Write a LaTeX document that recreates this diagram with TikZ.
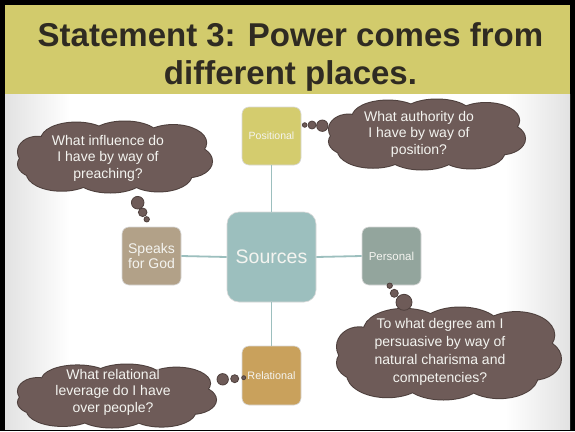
\documentclass[tikz,border=0pt]{standalone}
\usepackage{fontspec}
\setmainfont{Liberation Sans}
\definecolor{band}{HTML}{D2CB6C}
\definecolor{titletext}{HTML}{2F2B22}
\definecolor{posc}{HTML}{D4CC6E}
\definecolor{srcc}{HTML}{9CBFBE}
\definecolor{perc}{HTML}{93A59D}
\definecolor{spkc}{HTML}{B2A188}
\definecolor{relc}{HTML}{C9A15C}
\definecolor{cloudfill}{HTML}{6E5B58}
\definecolor{cloudline}{HTML}{4E403D}
\definecolor{linkc}{HTML}{9CBFBE}
\definecolor{lighttext}{HTML}{F4F4F0}
\definecolor{edgegrey}{HTML}{E2E2E2}
\tikzset{
  srcbox/.style={rectangle, rounded corners=7pt, draw=white!85!black, line width=0.6pt, text=lighttext, align=center, inner sep=0pt},
  cloudshape/.style={insert path={
    (-0.55,0.45) ellipse [x radius=0.36, y radius=0.5]
    (-0.05,0.55) ellipse [x radius=0.36, y radius=0.45]
    (0.45,0.5) ellipse [x radius=0.34, y radius=0.47]
    (0.75,0.12) ellipse [x radius=0.25, y radius=0.45]
    (0.6,-0.4) ellipse [x radius=0.34, y radius=0.5]
    (0.1,-0.55) ellipse [x radius=0.36, y radius=0.45]
    (-0.4,-0.5) ellipse [x radius=0.36, y radius=0.47]
    (-0.8,-0.15) ellipse [x radius=0.2, y radius=0.42]
    (-0.75,0.2) ellipse [x radius=0.25, y radius=0.4]
    (0,0) ellipse [x radius=0.85, y radius=0.65]}},
  thoughtcloud/.pic={
    \path[fill=cloudline, draw=cloudline, line width=2pt, cloudshape];
    \path[fill=cloudfill, cloudshape];
  },
  thoughttext/.style={text=lighttext, align=center, font=\fontsize{14}{16.5}\selectfont, inner sep=0pt},
  bubble/.style={circle, fill=cloudfill, draw=cloudline, line width=0.8pt, inner sep=0pt},
  link/.style={draw=linkc, line width=1.8pt}
}
\begin{document}
\begin{tikzpicture}[x=1pt,y=-1pt]
\useasboundingbox (0,0) rectangle (575,431);
% frame and background
\fill[black] (0,0) rectangle (575,431);
\fill[white] (5,94) rectangle (570,429.5);
\shade[left color=edgegrey, right color=white] (5,94) rectangle (70,429.5);
\shade[left color=white, right color=edgegrey] (505,94) rectangle (570,429.5);
\fill[band] (5,5) rectangle (570,94);
\node[text=titletext, align=center, inner sep=0pt, font=\bfseries\fontsize{33}{38}\selectfont] (title) at (290.5,56.5) {Statement 3: Power comes from\\different places.};

% source boxes
\node[srcbox, fill=posc, minimum width=59pt, minimum height=58pt, font=\fontsize{10.5}{12}\selectfont] (pos) at (271.5,136) {Positional};
\node[srcbox, fill=srcc, rounded corners=12pt, minimum width=89pt, minimum height=90pt, font=\fontsize{19.5}{22}\selectfont] (src) at (271.5,257) {Sources};
\node[srcbox, fill=perc, minimum width=59pt, minimum height=58pt, font=\fontsize{11.5}{13}\selectfont] (per) at (391.5,256) {Personal};
\node[srcbox, fill=spkc, minimum width=59pt, minimum height=58pt, font=\fontsize{14}{15}\selectfont] (spk) at (151.5,256) {Speaks\\for God};
\node[srcbox, fill=relc, minimum width=59pt, minimum height=59pt, font=\fontsize{10.8}{12}\selectfont] (rel) at (271.5,375.5) {Relational};

% connectors
\draw[link] (pos.south) -- (src.north);
\draw[link] (src.west) -- (spk.east);
\draw[link] (src.east) -- (per.west);
\draw[link] (src.south) -- (rel.north);

% cloud 1 (top-left)
\pic[xscale=97, yscale=35.5] at (115,157) {thoughtcloud};
\node[thoughttext] (t1) at (108,158) {What influence do\\I have by way of\\preaching?};
\node[bubble, minimum size=12.6pt] (b1a) at (137.7,202.7) {};
\node[bubble, minimum size=8.6pt] (b1b) at (142.7,212.3) {};
\node[bubble, minimum size=5.4pt] (b1c) at (146.7,219.3) {};

% cloud 2 (top-right)
\pic[xscale=98, yscale=35] at (427,134.5) {thoughtcloud};
\node[thoughttext] (t2) at (419,134) {What authority do\\I have by way of\\position?};
\node[bubble, minimum size=11.4pt] (b2a) at (322.3,125.7) {};
\node[bubble, minimum size=8pt] (b2b) at (312,125) {};
\node[bubble, minimum size=4.6pt] (b2c) at (304.7,125) {};

% cloud 3 (right)
\pic[xscale=112, yscale=46] at (449,353.5) {thoughtcloud};
\node[thoughttext, font=\fontsize{14}{18}\selectfont] (t3) at (440,352) {To what degree am I\\persuasive by way of\\natural charisma and\\competencies?};
\node[bubble, minimum size=16pt] (b3a) at (404,302.3) {};
\node[bubble, minimum size=8pt] (b3b) at (394.3,293.3) {};
\node[bubble, minimum size=5.4pt] (b3c) at (389.7,285.7) {};

% cloud 4 (bottom-left)
\pic[xscale=99, yscale=31.5] at (117,396) {thoughtcloud};
\node[thoughttext] (t4) at (113,392) {What relational\\leverage do I have\\over people?};
\node[bubble, minimum size=11.4pt] (b4a) at (222.7,379.3) {};
\node[bubble, minimum size=8pt] (b4b) at (234.7,378.7) {};
\node[bubble, minimum size=4pt] (b4c) at (243.7,377.7) {};
\end{tikzpicture}
\end{document}
